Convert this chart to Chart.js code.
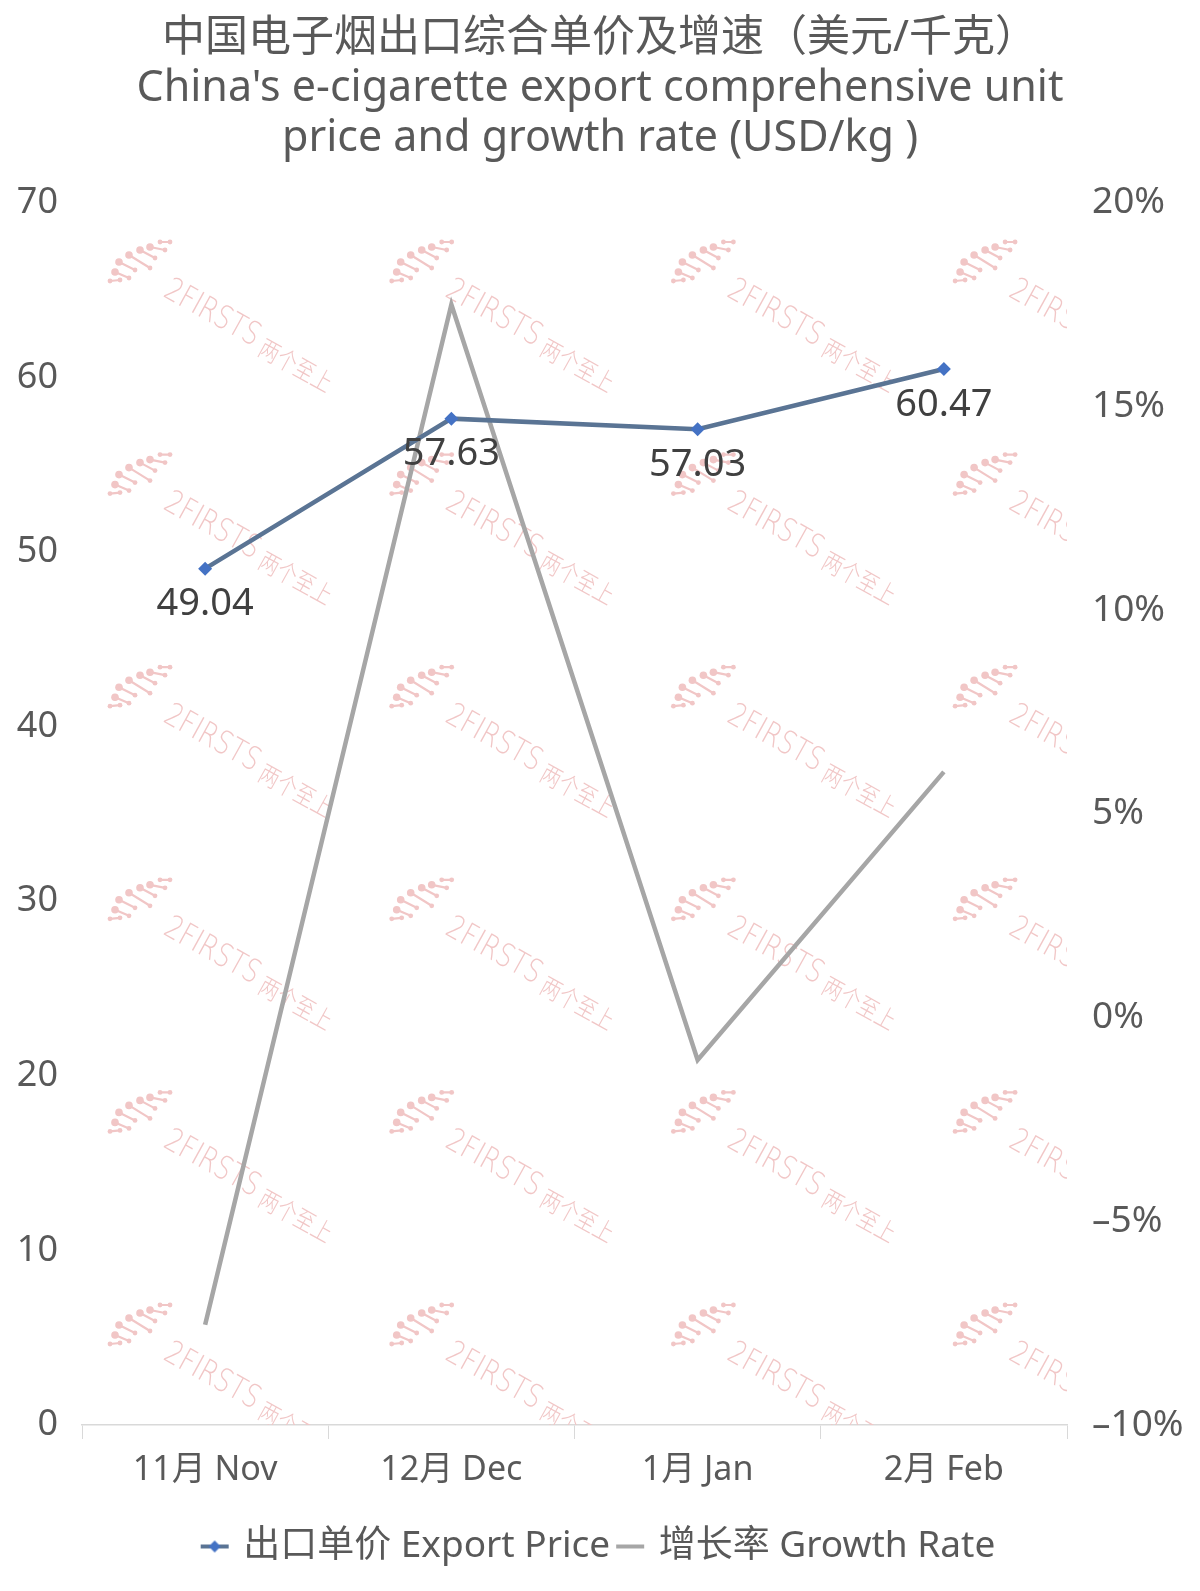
<!DOCTYPE html>
<html>
<head>
<meta charset="utf-8">
<script src="https://cdn.jsdelivr.net/npm/chart.js@4"></script>
<style>
  html, body { margin: 0; padding: 0; background: #fff; }
  #wrap { width: 1200px; height: 1591px; }
</style>
</head>
<body>
<div id="wrap"><canvas id="chart" width="1200" height="1591"></canvas></div>
<script>
const categories = ['11月 Nov', '12月 Dec', '1月 Jan', '2月 Feb'];
const exportPrice = [49.04, 57.63, 57.03, 60.47];
const growthRate = [-0.0754, 0.175, -0.0104, 0.0603];
const titleLines = ['中国电子烟出口综合单价及增速（美元/千克）', "China's e-cigarette export comprehensive unit", 'price and growth rate (USD/kg )'];
const legendNames = ['出口单价 Export Price', '增长率 Growth Rate'];

const FONT = "'Noto Sans', 'Noto Sans CJK SC', sans-serif";
const blueLine = '#5a7494';
const blueMark = '#4472c4';
const grayLine = '#a6a6a6';

// legend icons: short line, with a diamond for the price series
function legendIcon(color, diamond) {
  const c = document.createElement('canvas');
  c.width = 30; c.height = 14;
  const g = c.getContext('2d');
  g.strokeStyle = color; g.lineWidth = 4;
  g.beginPath(); g.moveTo(1, 7); g.lineTo(29, 7); g.stroke();
  if (diamond) {
    g.fillStyle = blueMark;
    g.beginPath(); g.moveTo(15, 1); g.lineTo(21, 7); g.lineTo(15, 13); g.lineTo(9, 7); g.closePath(); g.fill();
  }
  return c;
}

// watermark logo strands, relative to the text start
const logoStrands = [
  [-58, -4, -48, -5], [-53, -13, -39, -7], [-49, -23, -33, -15], [-39, -30, -18, -17],
  [-28, -35, -13, -27], [-18, -38, -3, -35], [-8, -43, 2, -43]
];

const watermark = {
  id: 'watermark',
  beforeDatasetsDraw(chart) {
    const { ctx, chartArea: a } = chart;
    ctx.save();
    ctx.beginPath();
    ctx.rect(a.left, a.top, a.right - a.left, a.bottom - a.top);
    ctx.clip();
    ctx.fillStyle = '#f1c6c6';
    ctx.strokeStyle = '#f1c6c6';
    for (let r = 0; r < 6; r++) {
      for (let c = 0; c < 4; c++) {
        const x = 168 + c * 281.7, y = 285 + r * 212.6;
        ctx.save();
        ctx.translate(x, y);
        ctx.lineWidth = 2.2;
        logoStrands.forEach(([x1, y1, x2, y2], i) => {
          ctx.beginPath(); ctx.moveTo(x1, y1); ctx.lineTo(x2, y2); ctx.stroke();
          ctx.beginPath(); ctx.arc(x1, y1, i === 0 || i === 6 ? 2.4 : 3.8, 0, Math.PI * 2); ctx.fill();
          ctx.beginPath(); ctx.arc(x2, y2, 2.4, 0, Math.PI * 2); ctx.fill();
        });
        ctx.rotate(29 * Math.PI / 180);
        ctx.scale(0.8, 1);
        ctx.font = "200 32px 'DejaVu Sans'";
        ctx.textBaseline = 'middle';
        ctx.fillText('2FIRSTS', 0, 4);
        const w = ctx.measureText('2FIRSTS').width;
        ctx.font = "300 25px 'Noto Sans CJK SC'";
        ctx.fillText('两个至上', w + 8, 8);
        ctx.restore();
      }
    }
    ctx.restore();
  }
};

const dataLabels = {
  id: 'dataLabels',
  afterDatasetsDraw(chart) {
    const { ctx } = chart;
    const meta = chart.getDatasetMeta(0);
    ctx.save();
    ctx.font = '38px ' + FONT;
    ctx.fillStyle = '#404040';
    ctx.textAlign = 'center';
    ctx.textBaseline = 'middle';
    meta.data.forEach((pt, i) => {
      ctx.fillText(exportPrice[i].toFixed(2), pt.x, pt.y + 36);
    });
    ctx.restore();
  }
};

new Chart(document.getElementById('chart'), {
  type: 'line',
  data: {
    labels: categories,
    datasets: [{
      label: legendNames[0],
      data: exportPrice,
      yAxisID: 'y',
      borderColor: blueLine,
      borderWidth: 4.5,
      pointStyle: 'rectRot',
      pointRadius: 7,
      pointBackgroundColor: blueMark,
      pointBorderColor: blueMark,
      pointBorderWidth: 0,
      tension: 0
    }, {
      label: legendNames[1],
      data: growthRate,
      yAxisID: 'y1',
      borderColor: grayLine,
      borderWidth: 4.5,
      pointRadius: 0,
      tension: 0
    }]
  },
  options: {
    responsive: false,
    animation: false,
    layout: { padding: { left: 0, right: 0, top: 0, bottom: 16 } },
    plugins: {
      title: {
        display: true,
        text: titleLines,
        color: '#595959',
        font: { size: 43, family: FONT, weight: 'normal', lineHeight: 1.16 },
        padding: { top: 14, bottom: 39 }
      },
      legend: {
        position: 'bottom',
        labels: {
          color: '#595959',
          font: { size: 37, family: FONT },
          usePointStyle: true,
          pointStyleWidth: 20,
          padding: 10,
          generateLabels() {
            return [
              { text: legendNames[0], pointStyle: legendIcon(blueLine, true), fontColor: '#595959', lineWidth: 0, datasetIndex: 0 },
              { text: legendNames[1], pointStyle: legendIcon(grayLine, false), fontColor: '#595959', lineWidth: 0, datasetIndex: 1 }
            ];
          }
        }
      },
      tooltip: { enabled: false }
    },
    scales: {
      x: {
        offset: true,
        afterFit(s) { s.height = 93; },
        grid: { drawOnChartArea: false, drawTicks: true, tickLength: 14, color: '#d9d9d9', offset: true },
        border: { color: '#d9d9d9', width: 1.5 },
        ticks: { color: '#595959', font: { size: 34, family: FONT }, padding: 11 }
      },
      y: {
        position: 'left',
        min: 0, max: 70,
        afterFit(s) { s.width = 82; },
        grid: { display: false, drawTicks: false },
        border: { display: false },
        ticks: { stepSize: 10, color: '#595959', font: { size: 36, family: FONT }, padding: 24 }
      },
      y1: {
        position: 'right',
        min: -0.1, max: 0.2,
        afterFit(s) { s.width = 133; },
        grid: { display: false, drawTicks: false },
        border: { display: false },
        ticks: {
          stepSize: 0.05, color: '#595959', font: { size: 37, family: FONT }, padding: 25,
          callback: v => (Math.round(v * 100) < 0 ? '–' + Math.abs(Math.round(v * 100)) : Math.round(v * 100)) + '%'
        }
      }
    }
  },
  plugins: [watermark, dataLabels]
});
</script>
</body>
</html>
